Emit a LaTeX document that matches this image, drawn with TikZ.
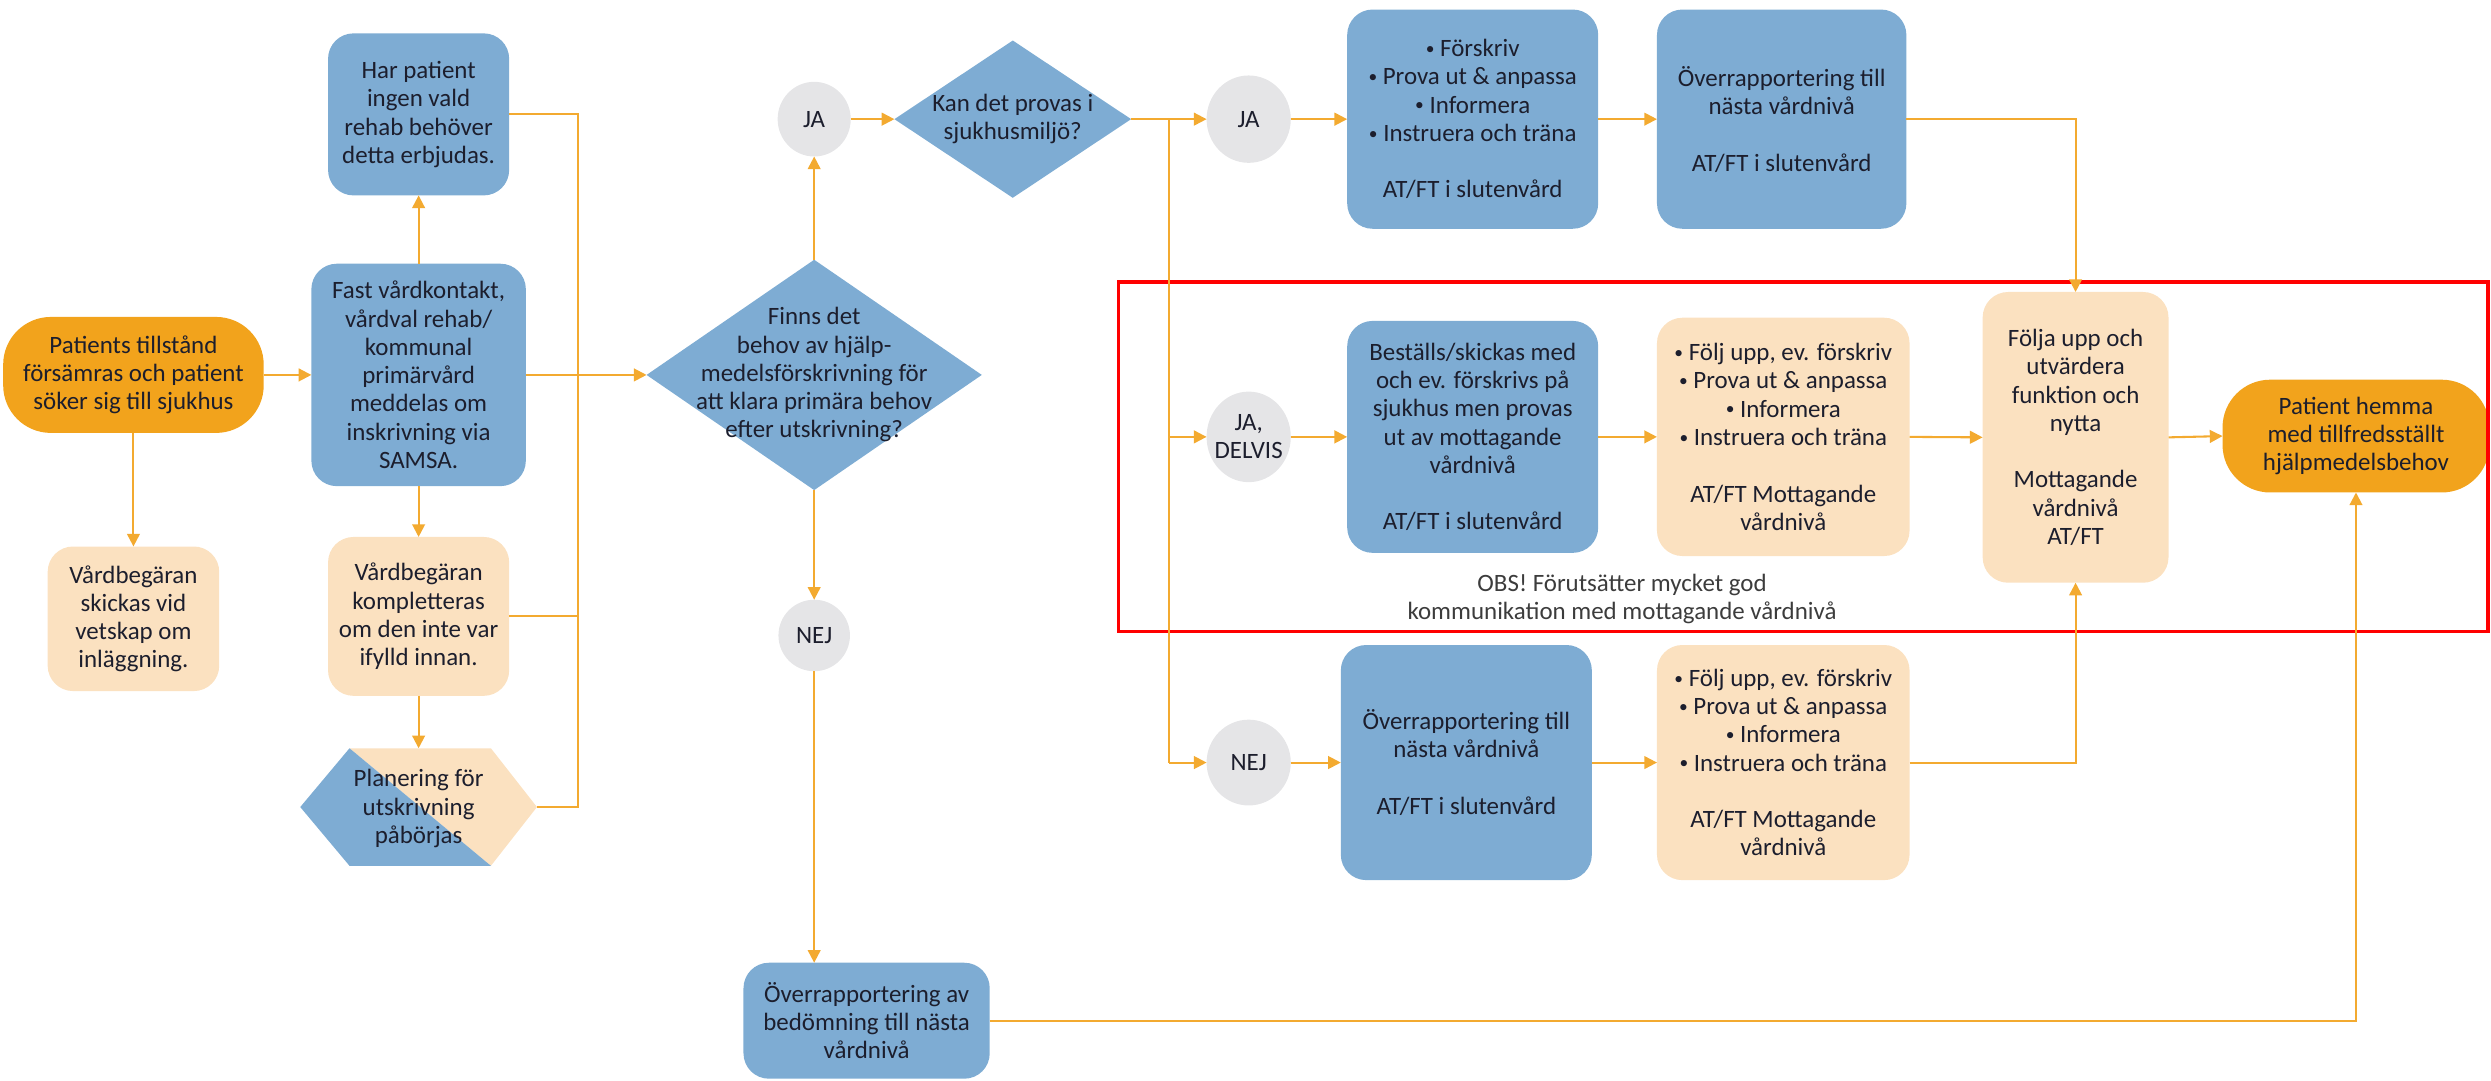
\documentclass[tikz,border=0pt]{standalone}
\usepackage{fontspec}
\setmainfont{Carlito}
\usetikzlibrary{arrows.meta,shapes.geometric}
\definecolor{boxblue}{RGB}{126,172,211}
\definecolor{peach}{RGB}{251,225,192}
\definecolor{darkor}{RGB}{242,163,28}
\definecolor{lineor}{RGB}{243,170,48}
\definecolor{circgray}{RGB}{229,229,231}
\definecolor{txt}{RGB}{28,30,45}
\definecolor{obsgray}{RGB}{60,60,60}
\newcommand{\bul}{\raisebox{1.4pt}{\scalebox{0.7}{•}}\ }
\begin{document}
\begin{tikzpicture}[x=1pt,y=-1pt,
  every node/.style={font=\fontsize{15.7}{17.8}\selectfont, text=txt, align=center, inner sep=1pt, outer sep=0pt},
  bbox/.style={rectangle, rounded corners=16pt, fill=boxblue},
  pbox/.style={rectangle, rounded corners=16pt, fill=peach},
  term/.style={rectangle, rounded corners=30pt, fill=darkor},
  circ/.style={ellipse, fill=circgray},
  dia/.style={diamond, fill=boxblue, inner sep=0pt},
  conn/.style={draw=lineor, line width=1.3pt},
  arr/.style={conn, -{Triangle[length=8pt,width=8pt]}},
]
\useasboundingbox (0,0) rectangle (1568,680);

% ---------- left column ----------
\node[term, minimum width=164pt, minimum height=73pt] (start) at (84,236)
  {Patients tillstånd\\försämras och patient\\söker sig till sjukhus};
\node[pbox, minimum width=108pt, minimum height=91pt] (vb1) at (84,389.5)
  {Vårdbegäran\\skickas vid\\vetskap om\\inläggning.};
\node[bbox, minimum width=135pt, minimum height=140pt] (fast) at (263.5,236)
  {Fast vårdkontakt,\\vårdval rehab/\\kommunal\\primärvård\\meddelas om\\inskrivning via\\SAMSA.};
\node[bbox, minimum width=114pt, minimum height=102pt] (har) at (263.5,72)
  {Har patient\\ingen vald\\rehab behöver\\detta erbjudas.};
\node[pbox, minimum width=114pt, minimum height=100pt] (vb2) at (263.5,388)
  {Vårdbegäran\\kompletteras\\om den inte var\\ifylld innan.};

% hexagon (two-coloured)
\coordinate (hL) at (189,508);
\coordinate (hTL) at (220,471);
\coordinate (hTR) at (309,471);
\coordinate (hR) at (338,508);
\coordinate (hBR) at (309,545);
\coordinate (hBL) at (220,545);
\fill[peach] (hTL) -- (hTR) -- (hR) -- (hBR) -- cycle;
\fill[boxblue] (hTL) -- (hL) -- (hBL) -- (hBR) -- cycle;
\node (plan) at (263.5,509) {Planering för\\utskrivning\\påbörjas};

\coordinate (bus) at (364,0);

% ---------- decisions ----------
\node[dia, minimum width=211pt, minimum height=145pt] (dia1) at (512.5,236) {};
\node (dia1t) at (dia1) {Finns det\\behov av hjälp-\\medelsförskrivning för\\att klara primära behov\\efter utskrivning?};
\node[circ, minimum width=46pt, minimum height=47pt] (ja1) at (512.5,75) {JA};
\node[circ, minimum width=45pt, minimum height=45pt] (nej1) at (512.5,400) {NEJ};
\node[dia, minimum width=149pt, minimum height=99pt] (dia2) at (637.5,75) {};
\node (dia2t) at (dia2) {Kan det provas i\\sjukhusmiljö?};
\node[bbox, minimum width=155pt, minimum height=73pt] (ovb) at (545.5,642.5)
  {Överrapportering av\\bedömning till nästa\\vårdnivå};

\coordinate (bus2) at (736,0);
\node[circ, minimum width=53pt, minimum height=55pt] (ja2) at (786,75) {JA};
\node[circ, minimum width=53pt, minimum height=57pt] (jad) at (786,275) {};
\node (jadt) at (jad) {JA,\\DELVIS};
\node[circ, minimum width=53pt, minimum height=54pt] (nej2) at (786,480) {NEJ};

% ---------- row 1 ----------
\node[bbox, minimum width=158pt, minimum height=138pt] (b1) at (927,75)
  {\bul Förskriv\\\bul Prova ut \& anpassa\\\bul Informera\\\bul Instruera och träna\\[17.8pt]AT/FT i slutenvård};
\node[bbox, minimum width=157pt, minimum height=138pt] (b2) at (1121.5,75)
  {Överrapportering till\\nästa vårdnivå\\[17.8pt]AT/FT i slutenvård};

% ---------- row 2 ----------
\node[bbox, minimum width=158pt, minimum height=146pt] (c1) at (927,275)
  {Beställs/skickas med\\och ev. förskrivs på\\sjukhus men provas\\ut av mottagande\\vårdnivå\\[17.8pt]AT/FT i slutenvård};
\node[pbox, minimum width=159pt, minimum height=150pt] (c2) at (1122.5,275)
  {\bul Följ upp, ev. förskriv\\\bul Prova ut \& anpassa\\\bul Informera\\\bul Instruera och träna\\[17.8pt]AT/FT Mottagande\\vårdnivå};
\node[pbox, minimum width=117pt, minimum height=183pt] (foelja) at (1306.5,275.3)
  {Följa upp och\\utvärdera\\funktion och\\nytta\\[17.8pt]Mottagande\\vårdnivå\\AT/FT};
\node[term, minimum width=168pt, minimum height=71pt] (end) at (1483,274.5)
  {Patient hemma\\med tillfredsställt\\hjälpmedelsbehov};

% ---------- row 3 ----------
\node[bbox, minimum width=158pt, minimum height=148pt] (e1) at (923,480)
  {Överrapportering till\\nästa vårdnivå\\[17.8pt]AT/FT i slutenvård};
\node[pbox, minimum width=159pt, minimum height=148pt] (e2) at (1122.5,480)
  {\bul Följ upp, ev. förskriv\\\bul Prova ut \& anpassa\\\bul Informera\\\bul Instruera och träna\\[17.8pt]AT/FT Mottagande\\vårdnivå};

% ---------- highlight ----------
\draw[red, line width=2.1pt] (704,177.5) rectangle (1566,397.5);
\node[text=obsgray] (obs) at (1021,377) {OBS! Förutsätter mycket god\\kommunikation med mottagande vårdnivå};

% ---------- connectors ----------
\draw[arr] (start.east) -- (fast.west);
\draw[arr] (start.south) -- (vb1.north);
\draw[arr] (fast.north) -- (har.south);
\draw[arr] (fast.south) -- (vb2.north);
\draw[arr] (vb2.south) -- (vb2.south |- hTL);
\draw[conn] (har.east) -- (har.east -| bus) -- (hR -| bus) -- (hR);
\draw[conn] (vb2.east) -- (vb2.east -| bus);
\draw[arr] (fast.east) -- (dia1.west);

\draw[arr] (dia1.north) -- (ja1.south);
\draw[arr] (ja1.east) -- (dia2.west);
\draw[arr] (dia1.south) -- (nej1.north);
\draw[arr] (nej1.south) -- (nej1.south |- ovb.north);
\draw[arr] (ovb.east) -| (end.south);

\draw[arr] (dia2.east) -- (ja2.west);
\draw[conn] (dia2.east -| bus2) -- (nej2.west -| bus2);
\draw[arr] (jad.west -| bus2) -- (jad.west);
\draw[arr] (nej2.west -| bus2) -- (nej2.west);

\draw[arr] (ja2.east) -- (b1.west);
\draw[arr] (b1.east) -- (b2.west);
\draw[arr] (b2.east) -| (foelja.north);

\draw[arr] (jad.east) -- (c1.west);
\draw[arr] (c1.east) -- (c2.west);
\draw[arr] (c2.east) -- (foelja.west);
\draw[arr] (foelja.east) -- (end.west);

\draw[arr] (nej2.east) -- (e1.west);
\draw[arr] (e1.east) -- (e2.west);
\draw[arr] (e2.east) -| (foelja.south);
\end{tikzpicture}
\end{document}
